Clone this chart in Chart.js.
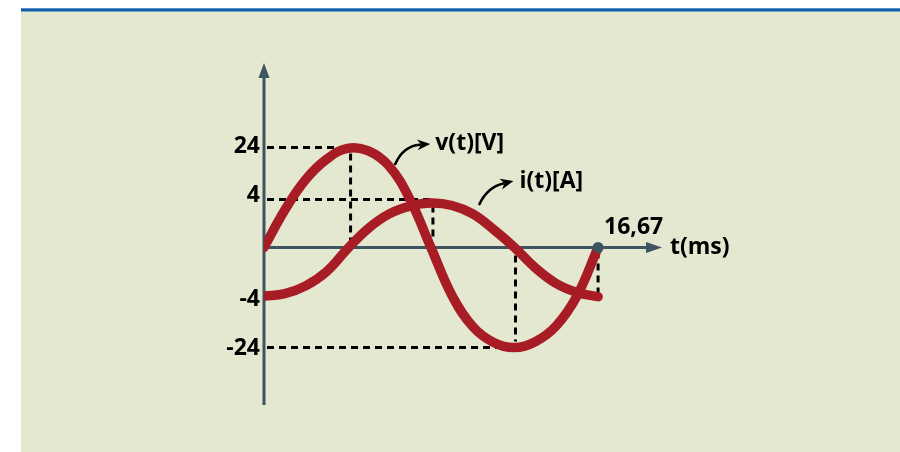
<!DOCTYPE html>
<html>
<head>
<meta charset="utf-8">
<script src="https://cdn.jsdelivr.net/npm/chart.js@4.4.1/dist/chart.umd.min.js"></script>
<style>
  html, body { margin: 0; padding: 0; background: #ffffff; }
  canvas { display: block; }
</style>
</head>
<body>
<canvas id="c" width="900" height="452"></canvas>
<script>
// ---- data ----
const times   = [0, 1.04, 2.08, 3.13, 4.17, 5.21, 6.25, 7.29, 8.33, 9.38, 10.42, 11.46, 12.5, 13.54, 14.58, 15.63, 16.67]; // ms
const voltage = [0, 9, 16.3, 21.2, 23.8, 23.2, 19.5, 11.5, 0, -11.5, -19, -22.8, -24, -22.6, -18.8, -11.5, 0];       // V
const current = [-4.05, -3.85, -3.2, -2.0, -0.1, 1.6, 2.8, 3.45, 3.7, 3.5, 2.8, 1.5, 0, -1.7, -3.0, -3.75, -4.1];      // A
const voltageTicks = [24, -24];
const currentTicks = [4, -4];
const periodValue = 16.67;
const periodLabel = '16,67';
const xAxisTitle = 't(ms)';
const seriesLabels = ['v(t)[V]', 'i(t)[A]'];

const RED = '#a71c25';
const AXIS = '#3e5461';
const FONT = 'bold 23px "Open Sans", "Noto Sans", sans-serif';

function pts(vals) { return times.map((t, i) => ({ x: t, y: vals[i] })); }

function arrow(ctx, sx, sy, cx, cy, tx, ty) {
  const ang = Math.atan2(ty - cy, tx - cx);
  const len = 13, half = 5.5;
  const bx = tx - Math.cos(ang) * len * 0.8, by = ty - Math.sin(ang) * len * 0.8;
  ctx.save();
  ctx.strokeStyle = '#000'; ctx.fillStyle = '#000'; ctx.lineWidth = 2.6; ctx.lineCap = 'round';
  ctx.beginPath(); ctx.moveTo(sx, sy); ctx.quadraticCurveTo(cx, cy, bx, by); ctx.stroke();
  ctx.beginPath();
  ctx.moveTo(tx, ty);
  ctx.lineTo(tx - Math.cos(ang) * len + Math.sin(ang) * half, ty - Math.sin(ang) * len - Math.cos(ang) * half);
  ctx.lineTo(tx - Math.cos(ang) * len * 0.7, ty - Math.sin(ang) * len * 0.7);
  ctx.lineTo(tx - Math.cos(ang) * len - Math.sin(ang) * half, ty - Math.sin(ang) * len + Math.cos(ang) * half);
  ctx.closePath(); ctx.fill();
  ctx.restore();
}

const decor = {
  id: 'decor',
  beforeDraw(chart) {
    const ctx = chart.ctx;
    ctx.save();
    ctx.fillStyle = '#ffffff'; ctx.fillRect(0, 0, chart.width, chart.height);
    ctx.fillStyle = '#e4e8d0'; ctx.fillRect(21, 11, chart.width - 21, chart.height - 11);
    ctx.fillStyle = '#5a90c8'; ctx.fillRect(21, 8, chart.width - 21, 1);
    ctx.fillStyle = '#0e5ca8'; ctx.fillRect(21, 9, chart.width - 21, 2.5);
    ctx.restore();
  },
  beforeDatasetsDraw(chart) {
    const ctx = chart.ctx, a = chart.chartArea;
    const x = chart.scales.x, yV = chart.scales.yV, yI = chart.scales.yI;
    const x0 = x.getPixelForValue(0), y0 = yV.getPixelForValue(0);

    // dashed guides
    ctx.save();
    ctx.strokeStyle = '#000'; ctx.lineWidth = 3; ctx.setLineDash([7, 5]);
    const line = (ax, ay, bx, by) => { ctx.beginPath(); ctx.moveTo(ax, ay); ctx.lineTo(bx, by); ctx.stroke(); };
    const iMaxV = voltage.indexOf(Math.max(...voltage));
    const iMinV = voltage.indexOf(Math.min(...voltage));
    const iMaxI = current.indexOf(Math.max(...current));
    const pV = x.getPixelForValue(times[iMaxV]), pVm = x.getPixelForValue(times[iMinV]);
    const pI = x.getPixelForValue(times[iMaxI]);
    const h24 = yV.getPixelForValue(voltageTicks[0]), hm24 = yV.getPixelForValue(voltageTicks[1]);
    const h4 = yI.getPixelForValue(currentTicks[0]);
    line(x0 + 3, h24, pV, h24);
    line(pV + 3, h24 + 6, pV + 3, y0 - 6);
    line(x0 + 3, h4, pI, h4);
    line(pI + 2, h4 + 6, pI + 2, y0 - 6);
    line(x0 + 3, hm24, pVm - 10, hm24);
    line(pVm + 1, y0 + 8, pVm + 1, hm24 - 6);
    const pEnd = x.getPixelForValue(periodValue);
    line(pEnd, y0 + 4, pEnd, yI.getPixelForValue(current[current.length - 1]) - 4);
    ctx.restore();

    // axes with arrows
    ctx.save();
    ctx.strokeStyle = AXIS; ctx.fillStyle = AXIS; ctx.lineWidth = 3;
    ctx.beginPath(); ctx.moveTo(x0, a.bottom); ctx.lineTo(x0, a.top + 12); ctx.stroke();
    ctx.beginPath(); ctx.moveTo(x0, a.top); ctx.lineTo(x0 - 5.5, a.top + 15); ctx.lineTo(x0 + 5.5, a.top + 15); ctx.closePath(); ctx.fill();
    ctx.beginPath(); ctx.moveTo(x0, y0); ctx.lineTo(a.right - 12, y0); ctx.stroke();
    ctx.beginPath(); ctx.moveTo(a.right, y0); ctx.lineTo(a.right - 16, y0 - 5.5); ctx.lineTo(a.right - 16, y0 + 5.5); ctx.closePath(); ctx.fill();
    ctx.restore();
  },
  afterDatasetsDraw(chart) {
    const ctx = chart.ctx, a = chart.chartArea;
    const x = chart.scales.x, yV = chart.scales.yV, yI = chart.scales.yI;
    const x0 = x.getPixelForValue(0), y0 = yV.getPixelForValue(0);
    const pEnd = x.getPixelForValue(periodValue);

    ctx.save();
    ctx.fillStyle = AXIS;
    ctx.beginPath(); ctx.arc(pEnd, y0, 5.5, 0, Math.PI * 2); ctx.fill();

    ctx.fillStyle = '#000'; ctx.font = FONT; ctx.textBaseline = 'middle';
    ctx.textAlign = 'right';
    ctx.fillText(String(voltageTicks[0]), x0 - 4, yV.getPixelForValue(voltageTicks[0]) - 1);
    ctx.fillText(String(currentTicks[0]), x0 - 4, yI.getPixelForValue(currentTicks[0]) - 4);
    ctx.fillText(String(currentTicks[1]), x0 - 4, yI.getPixelForValue(currentTicks[1]) + 4);
    ctx.fillText(String(voltageTicks[1]), x0 - 4, yV.getPixelForValue(voltageTicks[1]) + 1);

    ctx.textAlign = 'left';
    ctx.fillText(periodLabel, pEnd + 6, y0 - 20);
    ctx.fillText(xAxisTitle, a.right + 8, y0);

    // series annotations
    const vs = { x: x.getPixelForValue(6.55), y: yV.getPixelForValue(19.1) };
    arrow(ctx, vs.x, vs.y - 4, vs.x + 8, vs.y - 22, vs.x + 35, vs.y - 24);
    ctx.fillText(seriesLabels[0], vs.x + 40, vs.y - 24);
    const is = { x: x.getPixelForValue(10.75), y: yI.getPixelForValue(3.2) };
    arrow(ctx, is.x, is.y - 5, is.x + 8, is.y - 22, is.x + 34, is.y - 28);
    ctx.fillText(seriesLabels[1], is.x + 40, is.y - 28);
    ctx.restore();
  }
};

new Chart(document.getElementById('c'), {
  type: 'line',
  data: {
    datasets: [
      { label: seriesLabels[1], data: pts(current), yAxisID: 'yI', borderColor: RED, borderWidth: 9.5,
        pointRadius: 0, tension: 0.4, borderCapStyle: 'round', fill: false },
      { label: seriesLabels[0], data: pts(voltage), yAxisID: 'yV', borderColor: RED, borderWidth: 9.5,
        pointRadius: 0, tension: 0.4, borderCapStyle: 'round', fill: false }
    ]
  },
  options: {
    responsive: false,
    animation: false,
    devicePixelRatio: 1,
    layout: { padding: { left: 264, top: 63, right: 238, bottom: 47 } },
    plugins: { legend: { display: false }, tooltip: { enabled: false } },
    scales: {
      x:  { type: 'linear', min: 0, max: 19.86, display: false },
      yV: { type: 'linear', min: -37.8, max: 44.28, display: false },
      yI: { type: 'linear', min: -13.125, max: 15.375, display: false }
    }
  },
  plugins: [decor]
});
</script>
</body>
</html>
